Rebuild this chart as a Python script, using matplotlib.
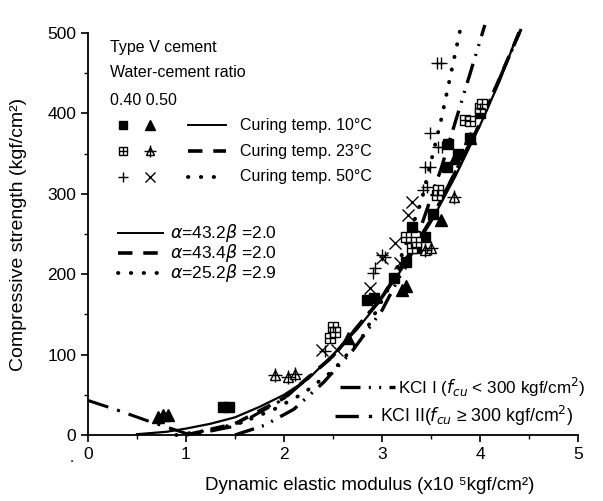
import numpy as np
import matplotlib.pyplot as plt

plt.rcParams['font.family'] = ['Liberation Sans', 'DejaVu Sans']
plt.rcParams['mathtext.fontset'] = 'dejavusans'

# measured points (x10^5 kgf/cm2, kgf/cm2)
sq10_e = [1.38, 1.44, 2.85, 2.92, 3.12, 3.25, 3.31, 3.35, 3.44, 3.52, 3.66, 3.67, 3.78, 3.9, 4.0]
sq10_f = [35, 35, 168, 170, 195, 215, 259, 232, 246, 275, 333, 362, 350, 370, 400]
tri10_e = [0.71, 0.77, 0.82, 2.65, 3.2, 3.25, 3.6, 3.75, 3.9]
tri10_f = [22, 25, 25, 121, 180, 185, 267, 345, 370]
sq23_e = [2.47, 2.5, 2.52, 3.25, 3.31, 3.35, 3.56, 3.57, 3.85, 3.9, 4.0, 4.02]
sq23_f = [121, 134, 128, 246, 232, 240, 298, 305, 392, 390, 407, 412]
tri23_e = [1.91, 2.04, 2.11, 3.44, 3.5, 3.74]
tri23_f = [75, 72, 76, 230, 232, 296]
pl50_e = [2.42, 2.91, 2.93, 3.0, 3.03, 3.42, 3.44, 3.46, 3.49, 3.49, 3.57, 3.61, 3.56, 3.6]
pl50_f = [104, 201, 208, 224, 221, 305, 333, 308, 333, 376, 358, 358, 463, 463]
x50_e = [2.39, 2.54, 2.88, 3.0, 3.13, 3.18, 3.27, 3.31]
x50_f = [106, 106, 183, 220, 239, 214, 274, 290]

# fitted curves
c10_e = [0.5, 0.8, 1.0, 1.25, 1.5, 1.75, 2.0, 2.25, 2.5, 2.75, 3.0, 3.25, 3.5, 3.75, 4.0, 4.2, 4.39]
c10_f = [1, 4, 8, 14, 22, 35, 50, 70, 100, 132, 170, 215, 265, 322, 385, 440, 500]
c23_e = [1.0, 1.5, 2.0, 2.5, 3.0, 3.5, 4.0, 4.41]
c23_f = [0, 14, 46, 98, 171, 267, 387, 503]
c50_e = [0.9, 1.3, 1.6, 1.9, 2.2, 2.5, 2.8, 3.1, 3.4, 3.6, 3.8]
c50_f = [0, 7, 17, 32, 52, 80, 122, 190, 290, 390, 505]
kci1_e = [1.5, 1.8, 2.1, 2.4, 2.7, 3.0, 3.3, 3.6, 3.8, 4.05]
kci1_f = [0, 12, 32, 65, 105, 155, 225, 330, 410, 510]
kci2_e = [0.0, 0.3, 0.6, 0.8, 1.05, 1.5, 2.0, 2.5, 3.0, 3.5, 4.0, 4.42]
kci2_f = [43, 31, 18, 10, 0, 11, 45, 98, 172, 268, 388, 505]

fig = plt.figure(figsize=(6.03, 5.01), dpi=100)
ax = fig.add_axes([0.1459, 0.1317, 0.8126, 0.8024])

ax.plot(c10_e, c10_f, c='k', lw=1.6, clip_on=False)
ax.plot(c23_e, c23_f, c='k', lw=2.6, ls=(0, (4, 3)), clip_on=False)
ax.plot(c50_e, c50_f, c='k', lw=2.8, ls=(0, (0.1, 3.2)), dash_capstyle='round', clip_on=False)
ax.plot(kci1_e, kci1_f, c='k', lw=2.4, ls=(0, (6, 2.5, 0.6, 2.5, 0.6, 2.5)), clip_on=False)
ax.plot(kci2_e, kci2_f, c='k', lw=2.2, ls=(0, (7, 3, 1, 3)), clip_on=False)

ms = 7
ax.plot(sq10_e, sq10_f, 's', c='k', ms=ms, ls='none')
ax.plot(tri10_e, tri10_f, '^', c='k', ms=ms + 1, ls='none')
ax.plot(sq23_e, sq23_f, 's', mfc='white', mec='k', ms=ms, mew=1.0, ls='none')
ax.plot(sq23_e, sq23_f, '+', c='k', ms=ms, mew=1.0, ls='none')
ax.plot(tri23_e, tri23_f, '^', mfc='white', mec='k', ms=ms, mew=1.0, ls='none')
ax.plot(tri23_e, tri23_f, '+', c='k', ms=ms + 3, mew=1.0, ls='none')
ax.plot(pl50_e, pl50_f, '+', c='k', ms=ms + 2, mew=1.0, ls='none')
ax.plot(x50_e, x50_f, 'x', c='k', ms=ms + 1, mew=1.0, ls='none')

ax.set_xlim(0, 5)
ax.set_ylim(0, 500)
ax.set_xticks(np.arange(0, 6, 1))
ax.set_xticks(np.arange(0.5, 5, 1), minor=True)
ax.set_yticks(np.arange(0, 600, 100))
ax.set_yticks(np.arange(50, 500, 100), minor=True)
ax.spines['top'].set_visible(False)
ax.spines['right'].set_visible(False)
ax.spines['left'].set_linewidth(1.3)
ax.spines['bottom'].set_linewidth(1.3)
ax.tick_params(which='major', direction='out', length=5, width=1.2, labelsize=12.5)
ax.tick_params(which='minor', direction='out', length=3, width=1.0)
ax.set_xlabel('Dynamic elastic modulus (x10 \u2075kgf/cm\u00b2)', fontsize=13.5)
ax.set_ylabel('Compressive strength (kgf/cm\u00b2)', fontsize=14)
ax.xaxis.set_label_coords(0.575, -0.105)
ax.yaxis.set_label_coords(-0.125, 0.5)

# legend block, top left
tr = ax.transAxes
fs = 11.5
ax.text(0.045, 0.965, 'Type V cement', transform=tr, fontsize=fs, va='center')
ax.text(0.045, 0.903, 'Water-cement ratio', transform=tr, fontsize=fs, va='center')
ax.text(0.045, 0.833, '0.40 0.50', transform=tr, fontsize=fs, va='center')
rows = [0.771, 0.706, 0.642]
temps = ['10', '23', '50']
for y, t in zip(rows, temps):
    ax.text(0.31, y, 'Curing temp. ' + t + '\u00b0C', transform=tr, fontsize=fs, va='center')
ax.plot([0.071], [rows[0]], 's', c='k', ms=6, transform=tr, clip_on=False)
ax.plot([0.127], [rows[0]], '^', c='k', ms=7, transform=tr, clip_on=False)
ax.plot([0.071], [rows[1]], 's', mfc='white', mec='k', ms=6, mew=1, transform=tr, clip_on=False)
ax.plot([0.071], [rows[1]], '+', c='k', ms=6, mew=1, transform=tr, clip_on=False)
ax.plot([0.127], [rows[1]], '^', mfc='white', mec='k', ms=6, mew=1, transform=tr, clip_on=False)
ax.plot([0.127], [rows[1]], '+', c='k', ms=9, mew=1, transform=tr, clip_on=False)
ax.plot([0.071], [rows[2]], '+', c='k', ms=7, mew=1, transform=tr, clip_on=False)
ax.plot([0.127], [rows[2]], 'x', c='k', ms=7, mew=1, transform=tr, clip_on=False)
ax.plot([0.204, 0.282], [rows[0]] * 2, c='k', lw=1.4, transform=tr)
ax.plot([0.204, 0.282], [rows[1]] * 2, c='k', lw=2.6, ls=(0, (4, 3)), transform=tr)
ax.plot([0.204, 0.282], [rows[2]] * 2, c='k', lw=2.8, ls=(0, (0.1, 3.2)), dash_capstyle='round', transform=tr)

# alpha/beta legend
ab_rows = [0.502, 0.452, 0.402]
ab_txt = [r'$\alpha$=43.2$\beta$ =2.0', r'$\alpha$=43.4$\beta$ =2.0', r'$\alpha$=25.2$\beta$ =2.9']
for y, s in zip(ab_rows, ab_txt):
    ax.text(0.167, y, s, transform=tr, fontsize=12.5, va='center')
ax.plot([0.061, 0.153], [ab_rows[0]] * 2, c='k', lw=1.4, transform=tr)
ax.plot([0.061, 0.153], [ab_rows[1]] * 2, c='k', lw=2.6, ls=(0, (4, 3)), transform=tr)
ax.plot([0.061, 0.153], [ab_rows[2]] * 2, c='k', lw=2.8, ls=(0, (0.1, 3.2)), dash_capstyle='round', transform=tr)

# KCI legend, bottom right
ax.plot([0.514, 0.627], [0.119] * 2, c='k', lw=2.4, ls=(0, (6, 2.5, 0.6, 2.5, 0.6, 2.5)), transform=tr)
ax.text(0.633, 0.119, 'KCI I ($f_{cu}$ < 300 kgf/cm$^2$)', transform=tr, fontsize=12.3, va='center')
ax.plot([0.504, 0.59], [0.047] * 2, c='k', lw=2.4, ls=(0, (7, 3, 1, 3)), transform=tr)
ax.text(0.596, 0.047, 'KCI II($f_{cu}$ \u2265 300 kgf/cm$^2$)', transform=tr, fontsize=12.8, va='center', clip_on=False)

fig.text(70 / 603, 1 - 462 / 501, '.', fontsize=11)

fig.savefig('out.png', dpi=100)
